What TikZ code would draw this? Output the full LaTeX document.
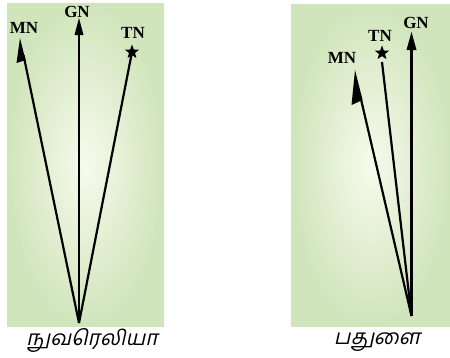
\documentclass[tikz,border=0pt]{standalone}
\usepackage{fontspec}
\setmainfont{Liberation Serif}
\newfontfamily\tamilfont[Script=Tamil]{Hind Madurai}
\usetikzlibrary{shapes.geometric}
\definecolor{panelout}{RGB}{208,229,188}
\definecolor{panelin}{RGB}{247,250,236}
\tikzset{
  panel/.style={inner color=panelin, outer color=panelout},
  ray/.style={line width=2.2pt, black},
  lbl/.style={font=\fontsize{17}{17}\selectfont\bfseries, inner sep=0pt},
  place/.style={font=\tamilfont\fontsize{21}{21}\selectfont, inner sep=0pt, anchor=base, xslant=0.22, transform shape},
  starmark/.style={star, star points=5, star point ratio=2.4, fill=black, inner sep=0pt, minimum size=15pt},
  head/.style={fill=black}
}
\begin{document}
\begin{tikzpicture}[x=1pt,y=-1pt]
\useasboundingbox (0,0) rectangle (450,357);
% panels
\shade[panel] (7,3) rectangle (164,326);
\shade[panel] (291,4) rectangle (450,326);

% ---------- left panel ----------
\coordinate (O1) at (79,323);
\coordinate (gn1) at (79,18);
\coordinate (mn1) at (20,38);
\node[starmark] (tn1) at (132,52) {};
\draw[ray] (O1) -- (79,33);
\fill[head] (gn1) -- (74.5,35) -- (83.5,35) -- cycle;
\draw[ray] (O1) -- (23.5,55);
\fill[head] (mn1) -- (16.5,63) -- (25.5,60) -- cycle;
\draw[ray] (O1) -- (tn1.center);
\node[lbl] (GN1) at (77,12) {GN};
\node[lbl] (MN1) at (24,28) {MN};
\node[lbl] (TN1) at (133,33) {TN};
\node[place] (p1) at (92,345) {நுவரெலியா};

% ---------- right panel ----------
\coordinate (O2) at (411.5,316);
\coordinate (gn2) at (411.5,32);
\coordinate (mn2) at (355,70);
\node[starmark] (tn2) at (382,53) {};
\draw[ray] (O2) -- (411.5,48);
\fill[head] (gn2) -- (406.5,50) -- (416.5,50) -- cycle;
\draw[ray] (O2) -- (360,95);
\fill[head] (mn2) -- (351.5,105) -- (362.5,100) -- cycle;
\draw[ray] (O2) -- (382,62);
\node[lbl] (GN2) at (416,23) {GN};
\node[lbl] (TN2) at (380,36) {TN};
\node[lbl] (MN2) at (342,58) {MN};
\node[place] (p2) at (377,344) {பதுளை};
\end{tikzpicture}
\end{document}
